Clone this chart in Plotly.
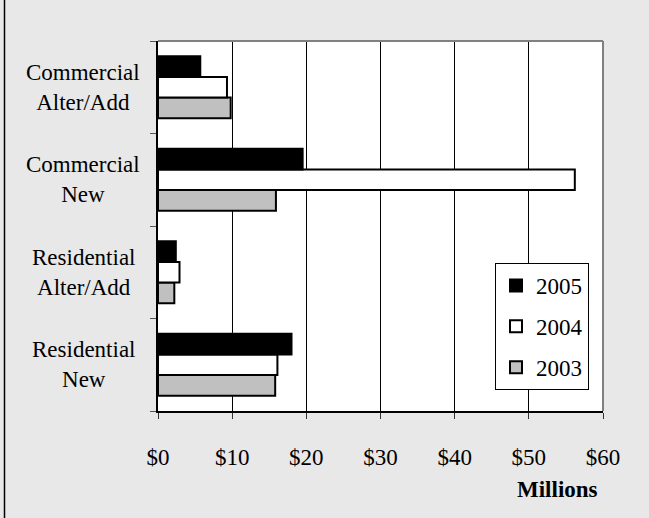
import plotly.graph_objects as go

categories = ["Residential<br>New", "Residential<br>Alter/Add", "Commercial<br>New", "Commercial<br>Alter/Add"]
years = ["2003", "2004", "2005"]
values_2003 = [15.8, 2.2, 15.9, 9.8]
values_2004 = [16.1, 2.9, 56.2, 9.3]
values_2005 = [18.0, 2.4, 19.5, 5.7]
colors = {"2003": "#c0c0c0", "2004": "#ffffff", "2005": "#000000"}
legend_rank = {"2005": 1, "2004": 2, "2003": 3}
x_ticks = [0, 10, 20, 30, 40, 50, 60]
x_tick_labels = ["$0", "$10", "$20", "$30", "$40", "$50", "$60"]

FONT = "Liberation Serif"
series = {"2003": values_2003, "2004": values_2004, "2005": values_2005}

fig = go.Figure()
for yr in years:
    fig.add_trace(go.Bar(
        y=categories, x=series[yr], name=yr, orientation="h",
        marker=dict(color=colors[yr], line=dict(color="black", width=2)),
        legendgroup=yr, legendrank=legend_rank[yr],
    ))

W, H = 649, 518
L, R, T, B = 158, 46, 41, 107
pw, ph = W - L - R, H - T - B

annotations = []
for c in categories:
    annotations.append(dict(
        x=(83 - L) / pw, xref="paper", y=c, yref="y", text=c, showarrow=False,
        xanchor="center", yanchor="middle", align="center",
        font=dict(family=FONT, size=23, color="black")))
annotations.append(dict(
    x=(557 - L) / pw, xref="paper", y=(T + ph - 489) / ph, yref="paper",
    text="<b>Millions</b>", showarrow=False, xanchor="center", yanchor="middle",
    font=dict(family=FONT, size=23, color="black")))

shapes = [
    dict(type="line", xref="paper", yref="paper", x0=0, x1=1, y0=1, y1=1,
         line=dict(color="#808080", width=2)),
    dict(type="line", xref="paper", yref="paper", x0=1, x1=1, y0=0, y1=1,
         line=dict(color="#808080", width=2)),
    dict(type="line", xref="paper", yref="paper", x0=(4.5 - L) / pw, x1=(4.5 - L) / pw,
         y0=(T + ph - H) / ph, y1=(T + ph) / ph + 0.2,
         line=dict(color="black", width=1.5)),
]

fig.update_layout(
    width=W, height=H,
    margin=dict(l=L, r=R, t=T, b=B),
    paper_bgcolor="#e8e8e8", plot_bgcolor="white",
    font=dict(family=FONT, size=23, color="black"),
    barmode="group", bargap=0.33, bargroupgap=0,
    showlegend=True,
    legend=dict(
        x=(495 - L) / pw, y=(T + ph - 263) / ph, xanchor="left", yanchor="top",
        bgcolor="white", bordercolor="black", borderwidth=1,
        traceorder="grouped", tracegroupgap=8,
        font=dict(family=FONT, size=23, color="black"),
    ),
    xaxis=dict(
        range=[0, 60], tickmode="array", tickvals=x_ticks, ticktext=x_tick_labels,
        showgrid=True, gridcolor="black", gridwidth=1, zeroline=False,
        showline=True, linecolor="black", linewidth=2,
        ticks="outside", ticklen=6, tickcolor="#333333", tickwidth=1,
        ticklabelstandoff=18,
        tickfont=dict(family=FONT, size=23, color="black"),
    ),
    yaxis=dict(
        type="category", categoryorder="array", categoryarray=categories,
        tickson="boundaries", ticks="outside", ticklen=6, tickcolor="#555555", tickwidth=1,
        showticklabels=False, showgrid=False, zeroline=False,
        showline=True, linecolor="black", linewidth=2,
    ),
    annotations=annotations, shapes=shapes,
)

fig.write_html("out.html", config={"displayModeBar": False},
               post_script="document.body.style.margin='0';document.body.style.overflow='hidden';")
